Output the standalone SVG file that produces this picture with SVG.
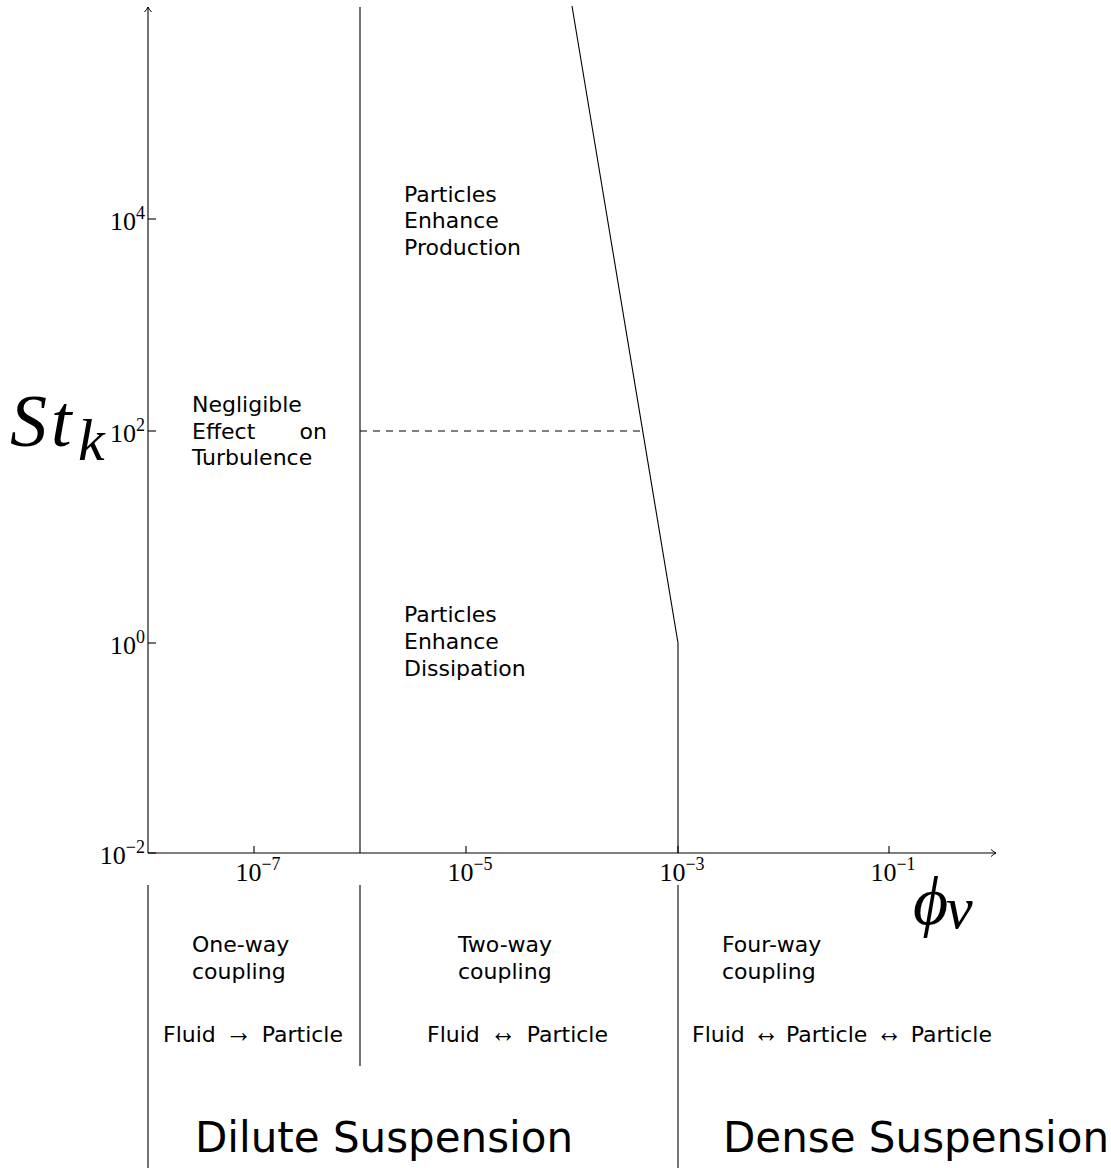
<svg xmlns="http://www.w3.org/2000/svg" width="1111" height="1168" viewBox="0 0 1111 1168">
<style>
.ln{stroke:#000;stroke-width:1.1;fill:none}
.sans{font-family:"DejaVu Sans","Liberation Sans",sans-serif;font-size:22px;fill:#000}
.sym{font-family:"Liberation Serif","DejaVu Serif",serif;font-size:32px;fill:#000}
.big{font-family:"DejaVu Sans","Liberation Sans",sans-serif;font-size:42px;fill:#000}
.num{font-family:"Liberation Serif","DejaVu Serif",serif;font-size:26px;fill:#000}
.sup{font-size:18px}
.math{font-family:"Liberation Serif","DejaVu Serif",serif;font-style:italic;fill:#000}
</style>
<defs>
<marker id="arr" markerWidth="10" markerHeight="10" refX="7" refY="5" orient="auto" markerUnits="userSpaceOnUse">
<path d="M2,1.5 Q5,4.2 7,5 Q5,5.8 2,8.5" fill="none" stroke="#000" stroke-width="1"/>
</marker>
</defs>
<g id="axes">
<line class="ln" x1="148" y1="853" x2="148" y2="7" marker-end="url(#arr)"/>
<line class="ln" x1="148" y1="853" x2="996" y2="853" marker-end="url(#arr)"/>
<g id="yticks">
<line class="ln" x1="148" y1="219" x2="156" y2="219"/>
<line class="ln" x1="148" y1="431" x2="156" y2="431"/>
<line class="ln" x1="148" y1="643" x2="156" y2="643"/>
<line class="ln" x1="148" y1="853" x2="156" y2="853"/>
</g>
<g id="xticks">
<line class="ln" x1="254" y1="853" x2="254" y2="846"/>
<line class="ln" x1="466" y1="853" x2="466" y2="846"/>
<line class="ln" x1="678" y1="853" x2="678" y2="846"/>
<line class="ln" x1="889" y1="853" x2="889" y2="846"/>
</g>
<g id="ylabels">
<text class="num" x="145" y="230" text-anchor="end">10<tspan class="sup" dy="-11">4</tspan></text>
<text class="num" x="145" y="442" text-anchor="end">10<tspan class="sup" dy="-11">2</tspan></text>
<text class="num" x="145" y="654" text-anchor="end">10<tspan class="sup" dy="-11">0</tspan></text>
<text class="num" x="145" y="864" text-anchor="end">10<tspan class="sup" dy="-11">−2</tspan></text>
</g>
<g id="xlabels">
<text class="num" x="258" y="881" text-anchor="middle">10<tspan class="sup" dy="-11">−7</tspan></text>
<text class="num" x="470" y="881" text-anchor="middle">10<tspan class="sup" dy="-11">−5</tspan></text>
<text class="num" x="682" y="881" text-anchor="middle">10<tspan class="sup" dy="-11">−3</tspan></text>
<text class="num" x="893" y="881" text-anchor="middle">10<tspan class="sup" dy="-11">−1</tspan></text>
</g>
<text id="ylabel" class="math" y="446" font-size="74"><tspan x="10">S</tspan><tspan x="51">t</tspan><tspan x="78" font-size="60" dy="14">k</tspan></text>
<text id="xlabel" class="math" y="924" font-size="68"><tspan x="913">ϕ</tspan><tspan x="946" font-size="60" dy="4">v</tspan></text>
</g>
<g id="connectors">
<line class="ln" x1="360" y1="7" x2="360" y2="853"/>
<polyline class="ln" points="572,6 678,643 678,853"/>
<line class="ln" x1="360" y1="431" x2="642" y2="431" stroke-dasharray="7,6"/>
<line class="ln" x1="148" y1="885" x2="148" y2="1168"/>
<line class="ln" x1="360" y1="885" x2="360" y2="1066"/>
<line class="ln" x1="678" y1="885" x2="678" y2="1168"/>
</g>
<g id="negligible">
<text class="sans" x="192" y="412">Negligible</text>
<text class="sans" x="192" y="439">Effect</text>
<text class="sans" x="327" y="439" text-anchor="end">on</text>
<text class="sans" x="192" y="465">Turbulence</text>
</g>
<g id="production">
<text class="sans" x="404" y="202">Particles</text>
<text class="sans" x="404" y="228">Enhance</text>
<text class="sans" x="404" y="255">Production</text>
</g>
<g id="dissipation">
<text class="sans" x="404" y="622">Particles</text>
<text class="sans" x="404" y="649">Enhance</text>
<text class="sans" x="404" y="676">Dissipation</text>
</g>
<g id="oneway">
<text class="sans" x="192" y="952">One-way</text>
<text class="sans" x="192" y="979">coupling</text>
<text class="sans" x="163" y="1042">Fluid</text>
<text class="sym" x="225" y="1042" textLength="27" lengthAdjust="spacingAndGlyphs">→</text>
<text class="sans" x="343" y="1042" text-anchor="end">Particle</text>
</g>
<g id="twoway">
<text class="sans" x="458" y="952">Two-way</text>
<text class="sans" x="458" y="979">coupling</text>
<text class="sans" x="427" y="1042">Fluid</text>
<text class="sym" x="490" y="1042" textLength="26" lengthAdjust="spacingAndGlyphs">↔</text>
<text class="sans" x="608" y="1042" text-anchor="end">Particle</text>
</g>
<g id="fourway">
<text class="sans" x="722" y="952">Four-way</text>
<text class="sans" x="722" y="979">coupling</text>
<text class="sans" x="692" y="1042">Fluid</text>
<text class="sym" x="753" y="1042" textLength="26" lengthAdjust="spacingAndGlyphs">↔</text>
<text class="sans" x="786" y="1042">Particle</text>
<text class="sym" x="876" y="1042" textLength="26" lengthAdjust="spacingAndGlyphs">↔</text>
<text class="sans" x="992" y="1042" text-anchor="end">Particle</text>
</g>
<g id="dilute">
<text class="big" x="195" y="1152">Dilute Suspension</text>
</g>
<g id="dense">
<text class="big" x="723" y="1152">Dense Suspension</text>
</g>
</svg>
